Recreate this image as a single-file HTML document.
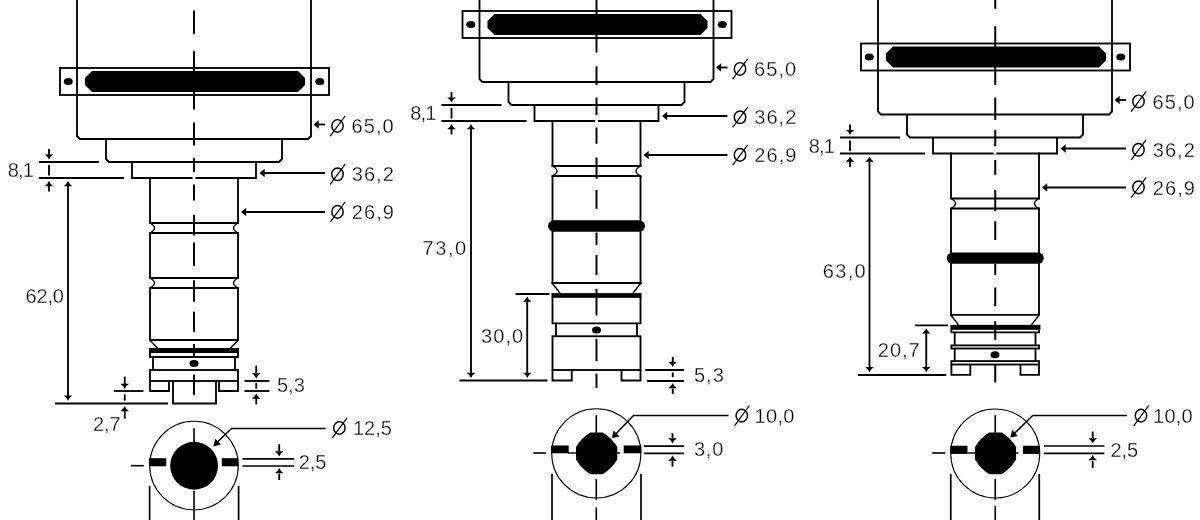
<!DOCTYPE html>
<html><head><meta charset="utf-8"><style>
html,body{margin:0;padding:0;background:#fff;width:1200px;height:520px;overflow:hidden}
svg{display:block}
text{font-family:"Liberation Sans",sans-serif;fill:#000;stroke:#fff;stroke-width:0.3px}
svg{will-change:transform}
</style></head><body>
<svg width="1200" height="520" viewBox="0 0 1200 520" stroke="#000" fill="none">
<g transform="translate(0,0)">
<path d="M77,-80 V136 L80,139 H308 L311,136 V-80" stroke-width="1.85" fill="none"/>
<rect x="60" y="68" width="269" height="27" fill="none" stroke-width="1.85"/>
<ellipse cx="68.25" cy="81.5" rx="4.5" ry="3.5" fill="#000" stroke="none"/>
<ellipse cx="319.8" cy="81.5" rx="4.5" ry="3.5" fill="#000" stroke="none"/>
<polygon points="85,78 92,71 298,71 305,78 305,85 298,92 92,92 85,85" fill="#000" stroke="none"/>
<path d="M106,139 V159 L109,162 H279 L282,159 V139" stroke-width="1.85" fill="none"/>
<path d="M132,162 V178 H256 V162" stroke-width="1.85" fill="none"/>
<line x1="150" y1="177" x2="150" y2="223" stroke-width="1.85"/>
<line x1="238" y1="177" x2="238" y2="223" stroke-width="1.85"/>
<line x1="149" y1="223" x2="239" y2="223" stroke-width="1.85"/>
<line x1="149" y1="233" x2="239" y2="233" stroke-width="1.85"/>
<path d="M150,223 Q159,228 150,233" stroke-width="1.4" fill="none"/>
<path d="M238,223 Q229,228 238,233" stroke-width="1.4" fill="none"/>
<rect x="192.6" y="176" width="2.8" height="3" fill="#fff" stroke="none"/>
<line x1="39" y1="162" x2="99" y2="162" stroke-width="1.85"/>
<line x1="39" y1="178" x2="124" y2="178" stroke-width="1.85"/>
<line x1="49" y1="149" x2="49" y2="156" stroke-width="1.85"/>
<polygon points="44.7,154.4 53.3,154.4 50.6,156.8 49,159.6 47.4,156.8" fill="#000" stroke="none"/>
<line x1="49" y1="165" x2="49" y2="175.5" stroke-width="1.85"/>
<line x1="49" y1="185" x2="49" y2="191.5" stroke-width="1.85"/>
<polygon points="44.7,186.2 53.3,186.2 50.6,183.8 49,181 47.4,183.8" fill="#000" stroke="none"/>
<text x="7.8" y="177.3" font-size="20" letter-spacing="-0.9">8,1</text>
<line x1="318" y1="124.5" x2="325" y2="124.5" stroke-width="1.85"/>
<polygon points="313.5,124.5 318.7,120.2 318.7,128.8" fill="#000" stroke="none"/>
<ellipse cx="337.5" cy="125.9" rx="5.7" ry="6.3" fill="none" stroke-width="1.45"/>
<line x1="330.2" y1="136.1" x2="345.2" y2="115.8" stroke-width="1.2"/>
<text x="351.5" y="133" font-size="20" letter-spacing="1.1">65,0</text>
<line x1="264" y1="173" x2="325" y2="173" stroke-width="1.85"/>
<polygon points="259.5,173 264.7,168.7 264.7,177.3" fill="#000" stroke="none"/>
<ellipse cx="337.5" cy="174.2" rx="5.7" ry="6.3" fill="none" stroke-width="1.45"/>
<line x1="330.2" y1="184.4" x2="345.2" y2="164.1" stroke-width="1.2"/>
<text x="351.75" y="181.3" font-size="20" letter-spacing="1.05">36,2</text>
<line x1="246" y1="212" x2="325" y2="212" stroke-width="1.85"/>
<polygon points="241,212 246.2,207.7 246.2,216.3" fill="#000" stroke="none"/>
<ellipse cx="337.5" cy="211.9" rx="5.7" ry="6.3" fill="none" stroke-width="1.45"/>
<line x1="330.2" y1="222.1" x2="345.2" y2="201.8" stroke-width="1.2"/>
<text x="351.75" y="219" font-size="20" letter-spacing="1.08">26,9</text>
<line x1="150" y1="233" x2="150" y2="278" stroke-width="1.85"/>
<line x1="238" y1="233" x2="238" y2="278" stroke-width="1.85"/>
<line x1="149" y1="278" x2="239" y2="278" stroke-width="1.85"/>
<line x1="149" y1="288" x2="239" y2="288" stroke-width="1.85"/>
<path d="M150,278 Q159,283 150,288" stroke-width="1.4" fill="none"/>
<path d="M238,278 Q229,283 238,288" stroke-width="1.4" fill="none"/>
<line x1="150" y1="288" x2="150" y2="341" stroke-width="1.85"/>
<line x1="238" y1="288" x2="238" y2="341" stroke-width="1.85"/>
<line x1="149" y1="340" x2="239" y2="340" stroke-width="1.85"/>
<line x1="150" y1="340.5" x2="157.5" y2="348" stroke-width="1.5"/>
<line x1="238" y1="340.5" x2="230.5" y2="348" stroke-width="1.5"/>
<rect x="149" y="348" width="90" height="5" fill="#000" stroke="none"/>
<path d="M150,352 V357 H238 V352" stroke-width="1.85" fill="none"/>
<line x1="153" y1="357" x2="153" y2="370" stroke-width="1.85"/>
<line x1="235" y1="357" x2="235" y2="370" stroke-width="1.85"/>
<ellipse cx="194" cy="363.5" rx="4.5" ry="3.5" fill="#000" stroke="none"/>
<rect x="150" y="370" width="88" height="11" fill="none" stroke-width="1.85"/>
<path d="M150,381 V391 H169 V381" stroke-width="1.85" fill="none"/>
<path d="M219,381 V391 H238 V381" stroke-width="1.85" fill="none"/>
<path d="M173,381 V403.5 H216 V381" stroke-width="1.85" fill="none"/>
</g>
<line x1="194" y1="10.5" x2="194" y2="34" stroke-width="2"/>
<line x1="194" y1="51" x2="194" y2="109.6" stroke-width="2"/>
<line x1="194" y1="122.5" x2="194" y2="145.4" stroke-width="2"/>
<line x1="194" y1="158" x2="194" y2="172" stroke-width="2"/>
<line x1="194" y1="184.5" x2="194" y2="200.4" stroke-width="2"/>
<line x1="194" y1="214.8" x2="194" y2="235.6" stroke-width="2"/>
<line x1="194" y1="242.5" x2="194" y2="265.7" stroke-width="2"/>
<line x1="194" y1="280.2" x2="194" y2="301.7" stroke-width="2"/>
<line x1="194" y1="311.7" x2="194" y2="331.8" stroke-width="2"/>
<line x1="194" y1="344" x2="194" y2="357" stroke-width="2"/>
<line x1="194" y1="374.4" x2="194" y2="394.7" stroke-width="2"/>
<line x1="68" y1="184" x2="68" y2="397" stroke-width="1.85"/>
<polygon points="63.7,186.2 72.3,186.2 69.6,183.8 68,181 66.4,183.8" fill="#000" stroke="none"/>
<polygon points="63.7,395.6 72.3,395.6 69.6,398 68,400.8 66.4,398" fill="#000" stroke="none"/>
<line x1="55" y1="403.5" x2="168" y2="403.5" stroke-width="1.85"/>
<text x="25.5" y="303" font-size="20" letter-spacing="-0.17">62,0</text>
<line x1="114" y1="391" x2="143.5" y2="391" stroke-width="1.85"/>
<line x1="124.75" y1="376.5" x2="124.75" y2="384" stroke-width="1.85"/>
<polygon points="120.45,383.8 129.05,383.8 126.35,386.2 124.75,389 123.15,386.2" fill="#000" stroke="none"/>
<line x1="124.75" y1="394.4" x2="124.75" y2="400.6" stroke-width="1.85"/>
<line x1="124.75" y1="411" x2="124.75" y2="418.7" stroke-width="1.85"/>
<polygon points="120.45,411.2 129.05,411.2 126.35,408.8 124.75,406 123.15,408.8" fill="#000" stroke="none"/>
<text x="93" y="431.3" font-size="20" letter-spacing="-0.12">2,7</text>
<line x1="244.5" y1="381" x2="269.4" y2="381" stroke-width="1.85"/>
<line x1="244.5" y1="391" x2="269.4" y2="391" stroke-width="1.85"/>
<line x1="256.25" y1="365.6" x2="256.25" y2="373" stroke-width="1.85"/>
<polygon points="251.95,373.3 260.55,373.3 257.85,375.7 256.25,378.5 254.65,375.7" fill="#000" stroke="none"/>
<line x1="256.25" y1="383" x2="256.25" y2="388.75" stroke-width="1.85"/>
<line x1="256.25" y1="398" x2="256.25" y2="404.4" stroke-width="1.85"/>
<polygon points="251.95,398.7 260.55,398.7 257.85,396.3 256.25,393.5 254.65,396.3" fill="#000" stroke="none"/>
<text x="277" y="392" font-size="20" letter-spacing="0">5,3</text>
<circle cx="194" cy="465.6" r="44.3" fill="none" stroke-width="1.05"/>
<circle cx="194.1" cy="465.75" r="23.9" fill="#000" stroke="none"/>
<rect x="149" y="458.2" width="17.3" height="8.1" fill="#000" stroke="none"/>
<rect x="221.8" y="458.2" width="16.5" height="8.1" fill="#000" stroke="none"/>
<line x1="131" y1="465.7" x2="143.8" y2="465.7" stroke-width="1.6"/>
<line x1="194" y1="428.2" x2="194" y2="442" stroke-width="1.6"/>
<line x1="194" y1="491" x2="194" y2="520" stroke-width="1.6"/>
<line x1="149.6" y1="486" x2="149.6" y2="520" stroke-width="1.7"/>
<line x1="238.6" y1="486" x2="238.6" y2="520" stroke-width="1.7"/>
<line x1="217" y1="442.5" x2="231.5" y2="428.5" stroke-width="1.5"/>
<line x1="231" y1="428.5" x2="325.7" y2="428.5" stroke-width="1.6"/>
<polygon points="213.3,446.6 215.3,438.8 221,444.5" fill="#000" stroke="none"/>
<ellipse cx="339.4" cy="427.9" rx="5.7" ry="6.3" fill="none" stroke-width="1.45"/>
<line x1="332.1" y1="438.1" x2="347.1" y2="417.8" stroke-width="1.2"/>
<text x="353" y="435.2" font-size="20" letter-spacing="0">12,5</text>
<line x1="242.5" y1="458.9" x2="294" y2="458.9" stroke-width="1.7"/>
<line x1="242.5" y1="466" x2="294" y2="466" stroke-width="1.7"/>
<line x1="279.2" y1="444.3" x2="279.2" y2="451" stroke-width="1.85"/>
<polygon points="274.9,451.3 283.5,451.3 280.8,453.7 279.2,456.5 277.6,453.7" fill="#000" stroke="none"/>
<line x1="279.2" y1="473.5" x2="279.2" y2="480" stroke-width="1.85"/>
<polygon points="274.9,473.2 283.5,473.2 280.8,470.8 279.2,468 277.6,470.8" fill="#000" stroke="none"/>
<text x="298.7" y="469" font-size="20" letter-spacing="-0.05">2,5</text>
<g transform="translate(402.5,-57)">
<path d="M77,-80 V136 L80,139 H308 L311,136 V-80" stroke-width="1.85" fill="none"/>
<rect x="60" y="68" width="269" height="27" fill="none" stroke-width="1.85"/>
<ellipse cx="68.25" cy="81.5" rx="4.5" ry="3.5" fill="#000" stroke="none"/>
<ellipse cx="319.8" cy="81.5" rx="4.5" ry="3.5" fill="#000" stroke="none"/>
<polygon points="85,78 92,71 298,71 305,78 305,85 298,92 92,92 85,85" fill="#000" stroke="none"/>
<path d="M106,139 V159 L109,162 H279 L282,159 V139" stroke-width="1.85" fill="none"/>
<path d="M132,162 V178 H256 V162" stroke-width="1.85" fill="none"/>
<line x1="150" y1="177" x2="150" y2="223" stroke-width="1.85"/>
<line x1="238" y1="177" x2="238" y2="223" stroke-width="1.85"/>
<line x1="149" y1="223" x2="239" y2="223" stroke-width="1.85"/>
<line x1="149" y1="233" x2="239" y2="233" stroke-width="1.85"/>
<path d="M150,223 Q159,228 150,233" stroke-width="1.4" fill="none"/>
<path d="M238,223 Q229,228 238,233" stroke-width="1.4" fill="none"/>
<rect x="192.6" y="176" width="2.8" height="3" fill="#fff" stroke="none"/>
<line x1="39" y1="162" x2="99" y2="162" stroke-width="1.85"/>
<line x1="39" y1="178" x2="124" y2="178" stroke-width="1.85"/>
<line x1="49" y1="149" x2="49" y2="156" stroke-width="1.85"/>
<polygon points="44.7,154.4 53.3,154.4 50.6,156.8 49,159.6 47.4,156.8" fill="#000" stroke="none"/>
<line x1="49" y1="165" x2="49" y2="175.5" stroke-width="1.85"/>
<line x1="49" y1="185" x2="49" y2="191.5" stroke-width="1.85"/>
<polygon points="44.7,186.2 53.3,186.2 50.6,183.8 49,181 47.4,183.8" fill="#000" stroke="none"/>
<text x="7.8" y="177.3" font-size="20" letter-spacing="-0.9">8,1</text>
<line x1="318" y1="124.5" x2="325" y2="124.5" stroke-width="1.85"/>
<polygon points="313.5,124.5 318.7,120.2 318.7,128.8" fill="#000" stroke="none"/>
<ellipse cx="337.5" cy="125.9" rx="5.7" ry="6.3" fill="none" stroke-width="1.45"/>
<line x1="330.2" y1="136.1" x2="345.2" y2="115.8" stroke-width="1.2"/>
<text x="351.5" y="133" font-size="20" letter-spacing="1.1">65,0</text>
<line x1="264" y1="173" x2="325" y2="173" stroke-width="1.85"/>
<polygon points="259.5,173 264.7,168.7 264.7,177.3" fill="#000" stroke="none"/>
<ellipse cx="337.5" cy="174.2" rx="5.7" ry="6.3" fill="none" stroke-width="1.45"/>
<line x1="330.2" y1="184.4" x2="345.2" y2="164.1" stroke-width="1.2"/>
<text x="351.75" y="181.3" font-size="20" letter-spacing="1.05">36,2</text>
<line x1="246" y1="212" x2="325" y2="212" stroke-width="1.85"/>
<polygon points="241,212 246.2,207.7 246.2,216.3" fill="#000" stroke="none"/>
<ellipse cx="337.5" cy="211.9" rx="5.7" ry="6.3" fill="none" stroke-width="1.45"/>
<line x1="330.2" y1="222.1" x2="345.2" y2="201.8" stroke-width="1.2"/>
<text x="351.75" y="219" font-size="20" letter-spacing="1.08">26,9</text>
<line x1="150" y1="233" x2="150" y2="341" stroke-width="1.85"/>
<line x1="238" y1="233" x2="238" y2="341" stroke-width="1.85"/>
<rect x="145.5" y="277.3" width="97" height="11.4" rx="5.7" fill="#000" stroke="none"/>
<line x1="149" y1="340" x2="239" y2="340" stroke-width="1.85"/>
<line x1="150" y1="340.5" x2="157.5" y2="350.1" stroke-width="1.5"/>
<line x1="238" y1="340.5" x2="230.5" y2="350.1" stroke-width="1.5"/>
<rect x="149" y="350.1" width="90" height="4.7" fill="#000" stroke="none"/>
<path d="M150,354 V380.4 H238 V354" stroke-width="1.85" fill="none"/>
<line x1="153.5" y1="380.4" x2="153.5" y2="393.25" stroke-width="1.85"/>
<line x1="234.5" y1="380.4" x2="234.5" y2="393.25" stroke-width="1.85"/>
<ellipse cx="194" cy="387" rx="4.5" ry="3.5" fill="#000" stroke="none"/>
<rect x="150" y="393.25" width="88" height="33.75" fill="none" stroke-width="1.85"/>
<path d="M150,427 V437.5 H169.25 V427" stroke-width="1.85" fill="none"/>
<path d="M219,427 V437.5 H238 V427" stroke-width="1.85" fill="none"/>
</g>
<line x1="596.5" y1="0" x2="596.5" y2="52.5" stroke-width="2"/>
<line x1="596.5" y1="66.25" x2="596.5" y2="85" stroke-width="2"/>
<line x1="596.5" y1="97.5" x2="596.5" y2="115" stroke-width="2"/>
<line x1="596.5" y1="127.5" x2="596.5" y2="143.75" stroke-width="2"/>
<line x1="596.5" y1="157.5" x2="596.5" y2="178.75" stroke-width="2"/>
<line x1="596.5" y1="190" x2="596.5" y2="208.75" stroke-width="2"/>
<line x1="596.5" y1="232.5" x2="596.5" y2="245" stroke-width="2"/>
<line x1="596.5" y1="255" x2="596.5" y2="275" stroke-width="2"/>
<line x1="596.5" y1="288.75" x2="596.5" y2="315.5" stroke-width="2"/>
<line x1="596.5" y1="338.75" x2="596.5" y2="361.25" stroke-width="2"/>
<line x1="596.5" y1="373.75" x2="596.5" y2="388" stroke-width="2"/>
<line x1="471" y1="127" x2="471" y2="373" stroke-width="1.85"/>
<polygon points="466.7,129.2 475.3,129.2 472.6,126.8 471,124 469.4,126.8" fill="#000" stroke="none"/>
<polygon points="466.7,372.8 475.3,372.8 472.6,375.2 471,378 469.4,375.2" fill="#000" stroke="none"/>
<line x1="459.5" y1="380.5" x2="547.5" y2="380.5" stroke-width="1.85"/>
<text x="422.5" y="255" font-size="20" letter-spacing="1.6">73,0</text>
<line x1="515.6" y1="294" x2="549.4" y2="294" stroke-width="1.85"/>
<line x1="527.2" y1="301.5" x2="527.2" y2="373" stroke-width="1.85"/>
<polygon points="522.9,301.7 531.5,301.7 528.8,299.3 527.2,296.5 525.6,299.3" fill="#000" stroke="none"/>
<polygon points="522.9,372.8 531.5,372.8 528.8,375.2 527.2,378 525.6,375.2" fill="#000" stroke="none"/>
<text x="481" y="342.5" font-size="20" letter-spacing="1.08">30,0</text>
<line x1="645.25" y1="370" x2="684" y2="370" stroke-width="1.85"/>
<line x1="647" y1="381" x2="684" y2="381" stroke-width="1.85"/>
<line x1="672.75" y1="356.9" x2="672.75" y2="362" stroke-width="1.85"/>
<polygon points="668.45,361.8 677.05,361.8 674.35,364.2 672.75,367 671.15,364.2" fill="#000" stroke="none"/>
<line x1="672.75" y1="372.5" x2="672.75" y2="377.25" stroke-width="1.85"/>
<line x1="672.75" y1="388.5" x2="672.75" y2="393.75" stroke-width="1.85"/>
<polygon points="668.45,388.2 677.05,388.2 674.35,385.8 672.75,383 671.15,385.8" fill="#000" stroke="none"/>
<text x="694" y="382" font-size="20" letter-spacing="1">5,3</text>
<circle cx="596.3" cy="453.4" r="44.6" fill="none" stroke-width="1.05"/>
<path d="M590.2,432.6 L602.7,432.6 Q611.84,438.02 617.3,447.12 L617.3,459.62 Q611.84,468.73 602.7,474.15 L590.2,474.15 Q581.26,468.73 576,459.62 L576,447.12 Q581.26,438.02 590.2,432.6 Z" fill="#000" stroke="none"/>
<rect x="551" y="445.5" width="17.7" height="7.8" fill="#000" stroke="none"/>
<rect x="623.7" y="445.5" width="17.6" height="7.8" fill="#000" stroke="none"/>
<line x1="533.3" y1="453" x2="545.8" y2="453" stroke-width="1.6"/>
<line x1="568" y1="453" x2="576" y2="453" stroke-width="1.4"/>
<line x1="617" y1="453" x2="620" y2="453" stroke-width="1.4"/>
<line x1="596.3" y1="415" x2="596.3" y2="433" stroke-width="1.6"/>
<line x1="596.3" y1="479" x2="596.3" y2="499.8" stroke-width="1.6"/>
<line x1="596.3" y1="507.3" x2="596.3" y2="520" stroke-width="1.6"/>
<line x1="552" y1="474" x2="552" y2="520" stroke-width="1.7"/>
<line x1="641" y1="474" x2="641" y2="520" stroke-width="1.7"/>
<line x1="615" y1="434.8" x2="633.5" y2="415.5" stroke-width="1.5"/>
<line x1="633" y1="415.5" x2="728.5" y2="415.5" stroke-width="1.6"/>
<polygon points="611.8,438.1 613.6,430.6 619.5,436.4" fill="#000" stroke="none"/>
<ellipse cx="741.75" cy="415.6" rx="5.7" ry="6.3" fill="none" stroke-width="1.45"/>
<line x1="734.45" y1="425.8" x2="749.45" y2="405.5" stroke-width="1.2"/>
<text x="754.6" y="423" font-size="20" letter-spacing="0.27">10,0</text>
<line x1="643.75" y1="446.1" x2="684" y2="446.1" stroke-width="1.7"/>
<line x1="643.75" y1="453.4" x2="684" y2="453.4" stroke-width="1.7"/>
<line x1="672.5" y1="433.2" x2="672.5" y2="438" stroke-width="1.85"/>
<polygon points="668.2,438.3 676.8,438.3 674.1,440.7 672.5,443.5 670.9,440.7" fill="#000" stroke="none"/>
<line x1="672.5" y1="461" x2="672.5" y2="466.6" stroke-width="1.85"/>
<polygon points="668.2,460.7 676.8,460.7 674.1,458.3 672.5,455.5 670.9,458.3" fill="#000" stroke="none"/>
<text x="694" y="456" font-size="20" letter-spacing="0.75">3,0</text>
<g transform="translate(801,-24.5)">
<path d="M77,-80 V136 L80,139 H308 L311,136 V-80" stroke-width="1.85" fill="none"/>
<rect x="60" y="68" width="269" height="27" fill="none" stroke-width="1.85"/>
<ellipse cx="68.25" cy="81.5" rx="4.5" ry="3.5" fill="#000" stroke="none"/>
<ellipse cx="319.8" cy="81.5" rx="4.5" ry="3.5" fill="#000" stroke="none"/>
<polygon points="85,78 92,71 298,71 305,78 305,85 298,92 92,92 85,85" fill="#000" stroke="none"/>
<path d="M106,139 V159 L109,162 H279 L282,159 V139" stroke-width="1.85" fill="none"/>
<path d="M132,162 V178 H256 V162" stroke-width="1.85" fill="none"/>
<line x1="150" y1="177" x2="150" y2="223" stroke-width="1.85"/>
<line x1="238" y1="177" x2="238" y2="223" stroke-width="1.85"/>
<line x1="149" y1="223" x2="239" y2="223" stroke-width="1.85"/>
<line x1="149" y1="233" x2="239" y2="233" stroke-width="1.85"/>
<path d="M150,223 Q159,228 150,233" stroke-width="1.4" fill="none"/>
<path d="M238,223 Q229,228 238,233" stroke-width="1.4" fill="none"/>
<rect x="192.6" y="176" width="2.8" height="3" fill="#fff" stroke="none"/>
<line x1="39" y1="162" x2="99" y2="162" stroke-width="1.85"/>
<line x1="39" y1="178" x2="124" y2="178" stroke-width="1.85"/>
<line x1="49" y1="149" x2="49" y2="156" stroke-width="1.85"/>
<polygon points="44.7,154.4 53.3,154.4 50.6,156.8 49,159.6 47.4,156.8" fill="#000" stroke="none"/>
<line x1="49" y1="165" x2="49" y2="175.5" stroke-width="1.85"/>
<line x1="49" y1="185" x2="49" y2="191.5" stroke-width="1.85"/>
<polygon points="44.7,186.2 53.3,186.2 50.6,183.8 49,181 47.4,183.8" fill="#000" stroke="none"/>
<text x="7.8" y="177.3" font-size="20" letter-spacing="-0.9">8,1</text>
<line x1="318" y1="124.5" x2="325" y2="124.5" stroke-width="1.85"/>
<polygon points="313.5,124.5 318.7,120.2 318.7,128.8" fill="#000" stroke="none"/>
<ellipse cx="337.5" cy="125.9" rx="5.7" ry="6.3" fill="none" stroke-width="1.45"/>
<line x1="330.2" y1="136.1" x2="345.2" y2="115.8" stroke-width="1.2"/>
<text x="351.5" y="133" font-size="20" letter-spacing="1.1">65,0</text>
<line x1="264" y1="173" x2="325" y2="173" stroke-width="1.85"/>
<polygon points="259.5,173 264.7,168.7 264.7,177.3" fill="#000" stroke="none"/>
<ellipse cx="337.5" cy="174.2" rx="5.7" ry="6.3" fill="none" stroke-width="1.45"/>
<line x1="330.2" y1="184.4" x2="345.2" y2="164.1" stroke-width="1.2"/>
<text x="351.75" y="181.3" font-size="20" letter-spacing="1.05">36,2</text>
<line x1="246" y1="212" x2="325" y2="212" stroke-width="1.85"/>
<polygon points="241,212 246.2,207.7 246.2,216.3" fill="#000" stroke="none"/>
<ellipse cx="337.5" cy="211.9" rx="5.7" ry="6.3" fill="none" stroke-width="1.45"/>
<line x1="330.2" y1="222.1" x2="345.2" y2="201.8" stroke-width="1.2"/>
<text x="351.75" y="219" font-size="20" letter-spacing="1.08">26,9</text>
<line x1="150" y1="233" x2="150" y2="339.5" stroke-width="1.85"/>
<line x1="238" y1="233" x2="238" y2="339.5" stroke-width="1.85"/>
<rect x="145.75" y="277" width="97" height="11.3" rx="5.6" fill="#000" stroke="none"/>
<line x1="149" y1="339.3" x2="239" y2="339.3" stroke-width="1.85"/>
<line x1="150" y1="339.8" x2="157.5" y2="349.4" stroke-width="1.5"/>
<line x1="238" y1="339.8" x2="230.5" y2="349.4" stroke-width="1.5"/>
<rect x="149.4" y="349.35" width="90" height="4.95" fill="#000" stroke="none"/>
<path d="M150.4,354 V356.9 H238 V354" stroke-width="1.85" fill="none"/>
<line x1="153.7" y1="357" x2="153.7" y2="370" stroke-width="1.85"/>
<line x1="234.5" y1="357" x2="234.5" y2="370" stroke-width="1.85"/>
<rect x="150.4" y="369.9" width="87.6" height="3.1" fill="none" stroke-width="1.85"/>
<line x1="153.7" y1="373" x2="153.7" y2="385.5" stroke-width="1.85"/>
<line x1="234.5" y1="373" x2="234.5" y2="385.5" stroke-width="1.85"/>
<ellipse cx="194" cy="379.3" rx="4.5" ry="3.5" fill="#000" stroke="none"/>
<rect x="150.4" y="385.6" width="87.6" height="3.4" fill="none" stroke-width="1.85"/>
<path d="M150.4,389 V399.4 H169.3 V389" stroke-width="1.85" fill="none"/>
<path d="M219.5,389 V399.4 H238 V389" stroke-width="1.85" fill="none"/>
</g>
<line x1="995.25" y1="0" x2="995.25" y2="8.75" stroke-width="2"/>
<line x1="995.25" y1="26.25" x2="995.25" y2="85" stroke-width="2"/>
<line x1="995.25" y1="97.5" x2="995.25" y2="120" stroke-width="2"/>
<line x1="995.25" y1="130" x2="995.25" y2="146.25" stroke-width="2"/>
<line x1="995.25" y1="160" x2="995.25" y2="175" stroke-width="2"/>
<line x1="995.25" y1="190" x2="995.25" y2="211.25" stroke-width="2"/>
<line x1="995.25" y1="221.25" x2="995.25" y2="240" stroke-width="2"/>
<line x1="995.25" y1="264" x2="995.25" y2="275" stroke-width="2"/>
<line x1="995.25" y1="287.5" x2="995.25" y2="306.25" stroke-width="2"/>
<line x1="995.25" y1="321.25" x2="995.25" y2="340" stroke-width="2"/>
<line x1="995.25" y1="365" x2="995.25" y2="382.5" stroke-width="2"/>
<line x1="869.5" y1="161" x2="869.5" y2="367" stroke-width="1.85"/>
<polygon points="865.2,161.7 873.8,161.7 871.1,159.3 869.5,156.5 867.9,159.3" fill="#000" stroke="none"/>
<polygon points="865.2,367 873.8,367 871.1,369.4 869.5,372.2 867.9,369.4" fill="#000" stroke="none"/>
<line x1="858" y1="375" x2="946.3" y2="375" stroke-width="1.85"/>
<text x="822.75" y="277.5" font-size="20" letter-spacing="1.33">63,0</text>
<line x1="915" y1="325.3" x2="948" y2="325.3" stroke-width="1.85"/>
<line x1="926.25" y1="332" x2="926.25" y2="367" stroke-width="1.85"/>
<polygon points="921.95,333.5 930.55,333.5 927.85,331.1 926.25,328.3 924.65,331.1" fill="#000" stroke="none"/>
<polygon points="921.95,367 930.55,367 927.85,369.4 926.25,372.2 924.65,369.4" fill="#000" stroke="none"/>
<text x="877.8" y="356.9" font-size="20" letter-spacing="1">20,7</text>
<circle cx="995.25" cy="453.4" r="44.5" fill="none" stroke-width="1.05"/>
<path d="M989.2,432.6 L1001.7,432.6 Q1010.74,438.02 1016.1,447.12 L1016.1,459.62 Q1010.74,468.73 1001.7,474.15 L989.2,474.15 Q980.26,468.73 975,459.62 L975,447.12 Q980.26,438.02 989.2,432.6 Z" fill="#000" stroke="none"/>
<rect x="950.25" y="445.75" width="17.25" height="8.2" fill="#000" stroke="none"/>
<rect x="1023" y="445.75" width="16.5" height="8.2" fill="#000" stroke="none"/>
<line x1="932.25" y1="453" x2="945" y2="453" stroke-width="1.6"/>
<line x1="967.5" y1="453" x2="975" y2="453" stroke-width="1.4"/>
<line x1="1015.8" y1="453" x2="1018.5" y2="453" stroke-width="1.4"/>
<line x1="995.25" y1="415" x2="995.25" y2="433" stroke-width="1.6"/>
<line x1="995.25" y1="478.75" x2="995.25" y2="500" stroke-width="1.6"/>
<line x1="995.25" y1="506" x2="995.25" y2="520" stroke-width="1.6"/>
<line x1="950.75" y1="473.75" x2="950.75" y2="520" stroke-width="1.7"/>
<line x1="1039.25" y1="473.75" x2="1039.25" y2="520" stroke-width="1.7"/>
<line x1="1013.5" y1="434.3" x2="1032.75" y2="415.5" stroke-width="1.5"/>
<line x1="1032.3" y1="415.5" x2="1127" y2="415.5" stroke-width="1.6"/>
<polygon points="1010.3,437.6 1012.1,430.1 1018,435.9" fill="#000" stroke="none"/>
<ellipse cx="1141" cy="415.6" rx="5.7" ry="6.3" fill="none" stroke-width="1.45"/>
<line x1="1133.7" y1="425.8" x2="1148.7" y2="405.5" stroke-width="1.2"/>
<text x="1153" y="422.7" font-size="20" letter-spacing="0.27">10,0</text>
<line x1="1043.75" y1="446" x2="1104.4" y2="446" stroke-width="1.7"/>
<line x1="1043.75" y1="453.4" x2="1104.4" y2="453.4" stroke-width="1.7"/>
<line x1="1092.7" y1="431.6" x2="1092.7" y2="438" stroke-width="1.85"/>
<polygon points="1088.4,438.3 1097,438.3 1094.3,440.7 1092.7,443.5 1091.1,440.7" fill="#000" stroke="none"/>
<line x1="1092.7" y1="461" x2="1092.7" y2="468.2" stroke-width="1.85"/>
<polygon points="1088.4,460.2 1097,460.2 1094.3,457.8 1092.7,455 1091.1,457.8" fill="#000" stroke="none"/>
<text x="1110.4" y="456.5" font-size="20" letter-spacing="-0.05">2,5</text>
</svg>
</body></html>
